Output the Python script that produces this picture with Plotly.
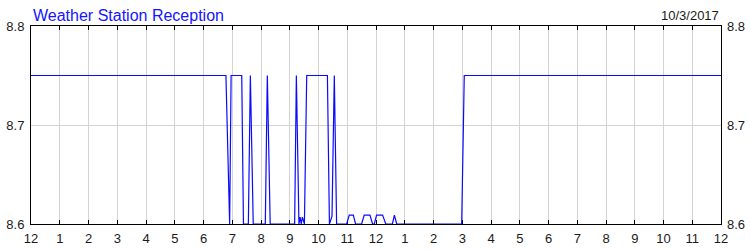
import plotly.graph_objects as go

# hours since midnight
hours = [0, 6.78, 6.91, 6.96, 7.33, 7.39, 7.56, 7.63, 7.73, 8.15, 8.22, 8.32,
         9.17, 9.23, 9.32, 9.36, 9.40, 9.44, 9.51, 9.59, 10.31, 10.38, 10.47,
         10.55, 10.63, 10.98, 11.07, 11.21, 11.29, 11.50, 11.59, 11.79, 11.88,
         11.94, 12.02, 12.23, 12.34, 12.57, 12.64, 12.72, 14.98, 15.07, 24]
reception = [8.75, 8.75, 8.6, 8.75, 8.75, 8.6, 8.6, 8.75, 8.6, 8.6, 8.75, 8.6,
             8.6, 8.75, 8.6, 8.607, 8.6, 8.607, 8.6, 8.75, 8.75, 8.6, 8.608,
             8.75, 8.6, 8.6, 8.609, 8.609, 8.6, 8.6, 8.609, 8.609, 8.6,
             8.6, 8.609, 8.609, 8.6, 8.6, 8.609, 8.6, 8.6, 8.75, 8.75]

tick_vals = list(range(0, 25))
tick_text = ["12", "1", "2", "3", "4", "5", "6", "7", "8", "9", "10", "11",
             "12", "1", "2", "3", "4", "5", "6", "7", "8", "9", "10", "11", "12"]
y_ticks = [8.6, 8.7, 8.8]

title_text = "Weather Station Reception"
date_text = "10/3/2017"

font_family = "Liberation Sans, Arial, sans-serif"
label_color = "#1a1a1a"

fig = go.Figure()
fig.add_trace(go.Scatter(x=hours, y=reception, mode="lines",
                         line=dict(color="#0a0aff", width=1.2),
                         hoverinfo="skip", showlegend=False))
# invisible trace on right axis to show mirrored labels
fig.add_trace(go.Scatter(x=[hours[0]], y=[reception[0]], yaxis="y2",
                         mode="markers", marker=dict(opacity=0),
                         hoverinfo="skip", showlegend=False))

fig.update_layout(
    width=750, height=250,
    margin=dict(l=31, r=29, t=26, b=26),
    paper_bgcolor="white", plot_bgcolor="white",
    font=dict(family=font_family, size=13, color=label_color),
    xaxis=dict(range=[0, 24], tickmode="array", tickvals=tick_vals,
               ticktext=tick_text, showgrid=True, gridcolor="#d3d3d3",
               gridwidth=1, showline=True, linecolor="black", linewidth=1,
               mirror="ticks", ticks="inside", ticklen=4, tickcolor="black",
               tickwidth=1, zeroline=False, layer="below traces",
               ticklabelstandoff=2, automargin=False,
               tickfont=dict(size=13, color=label_color)),
    yaxis=dict(range=[8.6, 8.8], tickmode="array", tickvals=y_ticks,
               ticktext=["8.6", "8.7", "8.8"], showgrid=True,
               gridcolor="#d3d3d3", gridwidth=1, showline=True,
               linecolor="black", linewidth=1, mirror=True, ticks="",
               zeroline=False, layer="below traces", ticklabelstandoff=3,
               automargin=False,
               tickfont=dict(size=13, color=label_color)),
    yaxis2=dict(range=[8.6, 8.8], tickmode="array", tickvals=y_ticks,
                ticktext=["8.6", "8.7", "8.8"], overlaying="y", side="right",
                showgrid=False, showline=False, ticks="", zeroline=False,
                ticklabelstandoff=5, automargin=False,
                tickfont=dict(size=13, color=label_color)),
    annotations=[
        dict(text=title_text, xref="paper", yref="paper", x=0, y=1,
             xanchor="left", yanchor="bottom", xshift=0, yshift=0,
             showarrow=False,
             font=dict(family=font_family, size=16, color="#1515ff")),
        dict(text=date_text, xref="paper", yref="paper", x=1, y=1,
             xanchor="right", yanchor="bottom", xshift=0, yshift=1,
             showarrow=False,
             font=dict(family=font_family, size=13, color=label_color)),
    ],
)

fig.write_html("out.html")
